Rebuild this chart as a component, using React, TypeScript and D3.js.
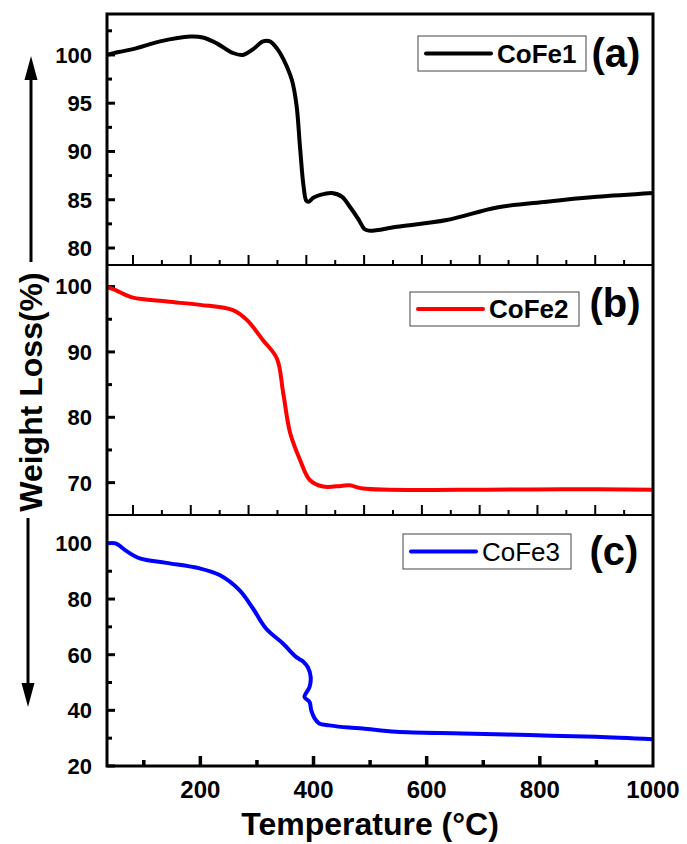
import React from 'react';
import * as d3 from 'd3';

// CoFe1 (panel a)
const temp1 = [55, 75, 100, 147, 199, 221, 245, 273, 290, 308, 325, 337, 350, 360, 375, 383, 389, 395, 400, 404, 412, 424, 444, 462, 475, 490, 500, 508, 557, 643, 730, 816, 903, 1000];
const loss1 = [100.0, 100.3, 100.6, 101.4, 101.9, 101.8, 101.2, 100.2, 100.0, 100.6, 101.4, 101.4, 100.6, 99.6, 97.4, 94.8, 90.5, 86.5, 84.9, 84.8, 85.2, 85.5, 85.7, 85.3, 84.3, 83.0, 82.0, 81.8, 82.2, 82.9, 84.2, 84.8, 85.3, 85.7];

// CoFe2 (panel b)
const temp2 = [55, 69, 85, 100, 159, 216, 273, 297, 325, 349, 360, 372, 389, 406, 429, 460, 475, 498, 671, 844, 1000];
const loss2 = [99.9, 99.5, 98.8, 98.3, 97.7, 97.2, 96.4, 94.9, 91.8, 89.0, 83.7, 77.6, 73.5, 70.4, 69.4, 69.5, 69.6, 69.1, 68.9, 69.0, 68.9];

// CoFe3 (panel c)
const temp3 = [35, 50, 69, 93, 140, 199, 234, 269, 293, 316, 346, 369, 382, 390, 395, 393, 384, 393, 396, 402, 410, 428, 463, 487, 546, 663, 781, 899, 1000];
const loss3 = [100, 100, 97.3, 94.6, 93.0, 91.0, 88.6, 83.2, 76.6, 69.4, 64.0, 59.2, 57.5, 55.5, 52.0, 48.4, 44.8, 43.0, 40.0, 37.1, 35.3, 34.6, 33.8, 33.5, 32.3, 31.7, 31.1, 30.5, 29.6];

const yMajorA = [80, 85, 90, 95, 100];
const yMinorA = [82.5, 87.5, 92.5, 97.5, 102.5];
const yMajorB = [70, 80, 90, 100];
const yMinorB = [75, 85, 95];
const yMajorC = [20, 40, 60, 80, 100];
const yMinorC = [30, 50, 70, 90];
const xMajor = [100, 200, 300, 400, 500, 600, 700, 800, 900];
const xMinor = [150, 250, 350, 450, 550, 650, 750, 850, 950];
const xLabels = [200, 400, 600, 800, 1000];
const xMinorC = [100, 300, 500, 700, 900];

const FONT = '"Liberation Sans", Arial, Helvetica, sans-serif';
const L = 107, R = 653;

const panels = [
  { name: 'CoFe1', tag: '(a)', color: '#000000', t: temp1, w: loss1, top: 14, bottom: 265, yDom: [78.24, 104.24], xDom: [55, 1000], major: yMajorA, minor: yMinorA, box: [418, 36, 168, 35], tagX: 616, tagY: 67, bold: true },
  { name: 'CoFe2', tag: '(b)', color: '#ff0000', t: temp2, w: loss2, top: 265, bottom: 515, yDom: [65.05, 103.3], xDom: [55, 1000], major: yMajorB, minor: yMinorB, box: [410, 292, 169, 34], tagX: 615, tagY: 317, bold: true },
  { name: 'CoFe3', tag: '(c)', color: '#0000ff', t: temp3, w: loss3, top: 515, bottom: 766, yDom: [20, 110.2], xDom: [35, 1000], major: yMajorC, minor: yMinorC, box: [403, 534, 168, 35], tagX: 614, tagY: 565, bold: false },
];

export default function App() {
  return (
    <svg width={687} height={844} style={{ position: 'absolute', left: 0, top: 0, background: '#fff' }} fontFamily={FONT}>
      {panels.map((p, i) => {
        const x = d3.scaleLinear().domain(p.xDom).range([L, R]);
        const y = d3.scaleLinear().domain(p.yDom).range([p.bottom, p.top]);
        const pts = p.t.map((t, k) => [t, p.w[k]] as [number, number]);
        const line = d3.line<[number, number]>()
          .x(d => x(d[0]))
          .y(d => y(d[1]))
          .curve(d3.curveCatmullRom.alpha(0.5));
        const isLast = i === panels.length - 1;
        const [bx, by, bw, bh] = p.box;
        return (
          <g key={p.name}>
            {/* y ticks */}
            {p.major.map(v => (
              <g key={'M' + v}>
                <line x1={L} x2={L + 8} y1={y(v)} y2={y(v)} stroke="#000" strokeWidth={3} />
                <text x={92} y={y(v)} dy="0.36em" textAnchor="end" fontSize={22} fontWeight="bold">{v}</text>
              </g>
            ))}
            {p.minor.map(v => (
              <line key={'m' + v} x1={L} x2={L + 5} y1={y(v)} y2={y(v)} stroke="#000" strokeWidth={3} />
            ))}
            {/* x ticks along the bottom of the panel */}
            {!isLast && xMajor.map(v => (
              <line key={'xM' + v} x1={x(v)} x2={x(v)} y1={p.bottom} y2={p.bottom - 10} stroke="#000" strokeWidth={2} />
            ))}
            {!isLast && xMinor.map(v => (
              <line key={'xm' + v} x1={x(v)} x2={x(v)} y1={p.bottom} y2={p.bottom - 5} stroke="#000" strokeWidth={2} />
            ))}
            {isLast && xLabels.filter(v => v < 1000).map(v => (
              <line key={'cM' + v} x1={x(v)} x2={x(v)} y1={p.bottom} y2={p.bottom - 10} stroke="#000" strokeWidth={3.5} />
            ))}
            {isLast && xMinorC.map(v => (
              <line key={'cm' + v} x1={x(v)} x2={x(v)} y1={p.bottom} y2={p.bottom - 6} stroke="#000" strokeWidth={3.5} />
            ))}
            {isLast && xLabels.map(v => (
              <text key={'cl' + v} x={x(v)} y={798} textAnchor="middle" fontSize={24} fontWeight="bold">{v}</text>
            ))}
            {/* data */}
            <path d={line(pts) || ''} fill="none" stroke={p.color} strokeWidth={4} strokeLinejoin="round" />
            {/* legend */}
            <rect x={bx} y={by} width={bw} height={bh} fill="#fff" stroke="#444" strokeWidth={1} />
            <line x1={bx + 8} x2={bx + 73} y1={by + bh / 2} y2={by + bh / 2} stroke={p.color} strokeWidth={4} strokeLinecap="round" />
            <text x={bx + 79} y={by + bh / 2} dy="0.36em" fontSize={26} fontWeight={p.bold ? 'bold' : 'normal'}>{p.name}</text>
            <text x={p.tagX} y={p.tagY} textAnchor="middle" fontSize={40} fontWeight="bold">{p.tag}</text>
            {/* panel divider */}
            {i > 0 && <line x1={L} x2={R} y1={p.top} y2={p.top} stroke="#000" strokeWidth={2} />}
          </g>
        );
      })}
      {/* frame */}
      <rect x={L} y={14} width={R - L} height={766 - 14} fill="none" stroke="#000" strokeWidth={3} />
      {/* y title with arrows */}
      <text transform="translate(42,392) rotate(-90)" textAnchor="middle" fontSize={32} fontWeight="bold">Weight Loss(%)</text>
      <line x1={31} x2={31} y1={262} y2={76} stroke="#000" strokeWidth={3} />
      <polygon points="31,56 24.5,80 37.5,80" fill="#000" />
      <line x1={28} x2={28} y1={518} y2={688} stroke="#000" strokeWidth={3} />
      <polygon points="28,707 21.5,683 34.5,683" fill="#000" />
      {/* x title */}
      <text x={370} y={835} textAnchor="middle" fontSize={32} fontWeight="bold">Temperature (°C)</text>
    </svg>
  );
}
